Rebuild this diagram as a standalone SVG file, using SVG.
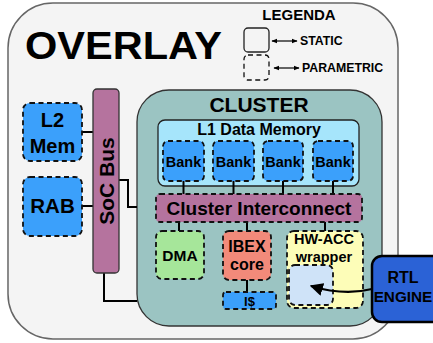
<svg xmlns="http://www.w3.org/2000/svg" width="433" height="343" viewBox="0 0 433 343">
<defs>
<style>
text{font-family:"Liberation Sans",Arial,sans-serif;font-weight:bold;fill:#000;text-anchor:middle}
.dash{stroke:#111;stroke-width:1.8;stroke-dasharray:5,3.5}
.solid{stroke:#222;stroke-width:1.3}
.wire{fill:none;stroke:#000;stroke-width:2}
.blue{fill:#3ba0fb}
.mauve{fill:#b5739e}
</style>
<marker id="ah" viewBox="0 0 10 10" refX="9" refY="5" markerWidth="6" markerHeight="6" orient="auto"><path d="M0,0 L10,5 L0,10 z" fill="#000"/></marker>
<marker id="sm" viewBox="0 0 10 10" refX="9" refY="5" markerWidth="5" markerHeight="5" orient="auto-start-reverse"><path d="M0,1 L10,5 L0,9 z" fill="#000"/></marker>
</defs>
<g id="overlay">
<rect x="8" y="3" width="390" height="336" rx="45" fill="#f4f4f4" stroke="#666" stroke-width="1.5"/>
<text x="25" y="59" font-size="38" style="text-anchor:start" textLength="197" lengthAdjust="spacingAndGlyphs">OVERLAY</text>
</g>
<g id="legend">
<text x="299" y="20" font-size="15">LEGENDA</text>
<rect x="244" y="28" width="25" height="24" rx="4" fill="#f4f4f4" class="solid"/>
<rect x="244" y="55" width="25" height="25" rx="4" fill="#f4f4f4" class="dash" style="stroke-width:1.3"/>
<line x1="272" y1="41" x2="297" y2="41" stroke="#000" stroke-width="1.2" marker-start="url(#sm)" marker-end="url(#sm)"/>
<line x1="274" y1="68" x2="299" y2="68" stroke="#000" stroke-width="1.2" marker-start="url(#sm)" marker-end="url(#sm)"/>
<text x="300" y="45" font-size="12.3" style="text-anchor:start">STATIC</text>
<text x="302" y="72" font-size="12.3" style="text-anchor:start">PARAMETRIC</text>
</g>
<g id="cluster">
<rect x="137" y="90" width="245" height="236" rx="32" fill="#9bc4c2" stroke="#333" stroke-width="1.3"/>
<text x="259" y="112" font-size="21">CLUSTER</text>
</g>
<g id="l1mem">
<rect x="158" y="120" width="201" height="66" rx="7" fill="#a6e5fb" class="solid"/>
<text x="259" y="135" font-size="16">L1 Data Memory</text>
</g>
<g id="connectors">
<path class="wire" d="M183.5,181 V194 M233.5,181 V194 M283,181 V194 M333,181 V194"/>
<path class="wire" d="M179,222 V232 M247,222 V232 M325,222 V232"/>
<path class="wire" d="M247,280 V292"/>
<path class="wire" d="M82,132 H93 M82,206 H93"/>
<path class="wire" d="M119,180 H128 V207 H137"/>
<path class="wire" d="M104,273 V301 H137"/>
</g>
<g id="bank1"><rect x="163" y="141" width="41" height="40" rx="5" class="blue dash"/><text x="183.5" y="166.5" font-size="14.5">Bank</text></g>
<g id="bank2"><rect x="213" y="141" width="41" height="40" rx="5" class="blue dash"/><text x="233.5" y="166.5" font-size="14.5">Bank</text></g>
<g id="bank3"><rect x="263" y="141" width="40" height="40" rx="5" class="blue dash"/><text x="283" y="166.5" font-size="14.5">Bank</text></g>
<g id="bank4"><rect x="313" y="141" width="40" height="40" rx="5" class="blue dash"/><text x="333" y="166.5" font-size="14.5">Bank</text></g>
<g id="interconnect"><rect x="156" y="194" width="206" height="28" rx="4" class="mauve dash"/><text x="259" y="214.5" font-size="19">Cluster Interconnect</text></g>
<g id="dma"><rect x="156" y="231" width="48" height="48" rx="6" fill="#a6e69a" class="dash"/><text x="180" y="260.5" font-size="15.5">DMA</text></g>
<g id="ibex"><rect x="223" y="231" width="48" height="49" rx="6" fill="#f28a7a" class="dash"/><text x="247" y="252" font-size="16">IBEX</text><text x="247" y="270" font-size="16">core</text></g>
<g id="icache"><rect x="223" y="292" width="53" height="17" rx="3" class="blue dash"/><text x="249.5" y="306" font-size="13">I$</text></g>
<g id="hwacc"><rect x="287" y="231" width="76" height="77" rx="7" fill="#fdfdb8" class="dash"/><text x="324" y="243.5" font-size="14.5">HW-ACC</text><text x="324" y="262" font-size="14.5">wrapper</text>
<rect x="289" y="265" width="44" height="40" rx="6" fill="#cfe3f8" class="dash"/></g>
<g id="socbus"><rect x="93" y="89" width="26" height="184" rx="4" class="mauve" stroke="#333" stroke-width="1.3"/><text transform="translate(114,181) rotate(-90)" x="0" y="0" font-size="21">SoC Bus</text></g>
<g id="l2mem"><rect x="23" y="103" width="59" height="58" rx="7" class="blue dash"/><text x="52.5" y="127" font-size="20">L2</text><text x="52.5" y="153" font-size="20">Mem</text></g>
<g id="rab"><rect x="23" y="177" width="59" height="59" rx="7" class="blue dash"/><text x="52.5" y="213" font-size="20.5">RAB</text></g>
<g id="rtl"><rect x="372" y="256" width="70" height="66" rx="10" fill="#2b62d6" stroke="#000" stroke-width="2.5"/><text x="403" y="283" font-size="16">RTL</text><text x="403" y="302" font-size="15.3">ENGINE</text></g>
<g id="arrow"><path d="M372,289 Q344,296 311,286" fill="none" stroke="#000" stroke-width="2.2" marker-end="url(#ah)"/></g>
</svg>
